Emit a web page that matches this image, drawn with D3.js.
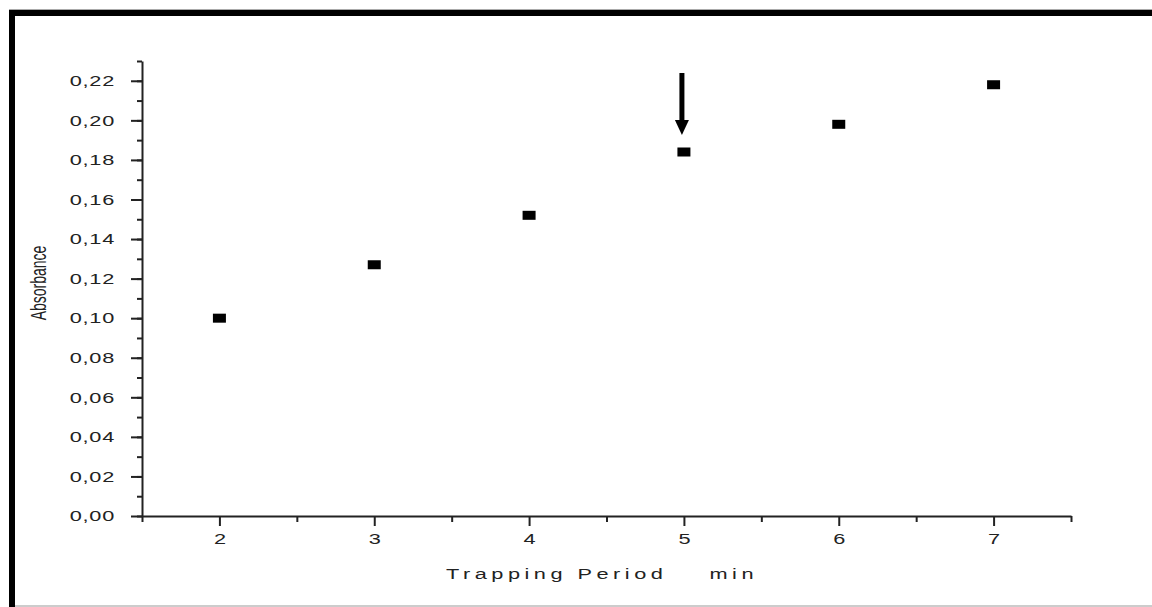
<!DOCTYPE html>
<html>
<head>
<meta charset="utf-8">
<script src="https://cdn.jsdelivr.net/npm/d3@7"></script>
<style>
  html, body { margin: 0; padding: 0; background: #fff; }
  svg { display: block; }
  text { font-family: "Liberation Sans", Arial, sans-serif; fill: #222; }
</style>
</head>
<body>
<svg id="chart" width="1152" height="607"></svg>
<script>
// Data
const periods = [2, 3, 4, 5, 6, 7];
const absorbance = [0.100, 0.127, 0.152, 0.184, 0.198, 0.218];
const xTicks = [2, 3, 4, 5, 6, 7];
const yTicks = [0, 0.02, 0.04, 0.06, 0.08, 0.10, 0.12, 0.14, 0.16, 0.18, 0.20, 0.22];
const xLabel = "Trapping Period    min";
const yLabel = "Absorbance";
const highlighted = 5;

const svg = d3.select("#chart");
const W = 1152, H = 607;
const SX = 1.45; // horizontal stretch of the original picture's text

// Frame
svg.append("rect").attr("x", 0).attr("y", 0).attr("width", W).attr("height", H).attr("fill", "#fff");
svg.append("line").attr("x1", 9).attr("x2", W).attr("y1", 9.5).attr("y2", 9.5).attr("stroke", "#aaa").attr("stroke-width", 1);
svg.append("line").attr("x1", 12).attr("x2", W).attr("y1", 13).attr("y2", 13).attr("stroke", "#000").attr("stroke-width", 6);
svg.append("line").attr("x1", 12).attr("x2", 12).attr("y1", 10).attr("y2", H).attr("stroke", "#000").attr("stroke-width", 6);
svg.append("line").attr("x1", 15).attr("x2", W).attr("y1", 606).attr("y2", 606).attr("stroke", "#bbb").attr("stroke-width", 1.5);

const x = d3.scaleLinear().domain([1.5, 7.5]).range([142, 1071]);
const y = d3.scaleLinear().domain([0, 0.23]).range([516, 61]);

const fmt = d => d.toFixed(2).replace(".", ",");

function stretch(sel) {
  sel.each(function () {
    const t = d3.select(this);
    const tx = +t.attr("x") || 0, ty = +t.attr("y") || 0;
    t.attr("x", 0).attr("y", 0)
     .attr("transform", `translate(${tx},${ty}) scale(${SX},1)`);
  });
}

// Y axis minor ticks
const yMinor = d3.range(0, 0.2301, 0.01).map(v => +v.toFixed(2));
svg.append("g").attr("transform", "translate(142,0)")
  .call(d3.axisLeft(y).tickValues(yMinor).tickSize(5).tickFormat(""))
  .call(g => g.select(".domain").remove())
  .selectAll("line").attr("stroke", "#222").attr("stroke-width", 2);

const gy = svg.append("g").attr("transform", "translate(142,0)")
  .call(d3.axisLeft(y).tickValues(yTicks).tickSize(11).tickSizeOuter(0).tickPadding(16).tickFormat(fmt));
gy.select(".domain").attr("stroke", "#222").attr("stroke-width", 2);
gy.selectAll(".tick line").attr("stroke", "#222").attr("stroke-width", 2);
gy.selectAll(".tick text").attr("font-size", 15).attr("letter-spacing", "0.5px")
  .attr("font-family", "Liberation Sans, Arial, sans-serif").attr("fill", "#2a2a2a")
  .call(stretch);

// X axis
const xMinor = d3.range(1.5, 7.51, 1);
svg.append("g").attr("transform", "translate(0,516)")
  .call(d3.axisBottom(x).tickValues(xMinor).tickSize(6).tickFormat(""))
  .call(g => g.select(".domain").remove())
  .selectAll("line").attr("stroke", "#222").attr("stroke-width", 2);

const gx = svg.append("g").attr("transform", "translate(0,516)")
  .call(d3.axisBottom(x).tickValues(xTicks).tickSize(10).tickSizeOuter(0).tickPadding(7).tickFormat(d3.format("d")));
gx.select(".domain").attr("stroke", "#222").attr("stroke-width", 2);
gx.selectAll(".tick line").attr("stroke", "#222").attr("stroke-width", 2);
gx.selectAll(".tick text").attr("font-size", 15)
  .attr("font-family", "Liberation Sans, Arial, sans-serif").attr("fill", "#2a2a2a")
  .call(stretch);

// Axis labels
svg.append("text")
  .attr("transform", `translate(602,579) scale(${SX},1)`)
  .attr("text-anchor", "middle")
  .attr("font-size", 15).attr("letter-spacing", "3.1px")
  .style("white-space", "pre").text(xLabel);
svg.append("text")
  .attr("transform", `translate(46,283) rotate(-90) scale(1,1.6)`)
  .attr("text-anchor", "middle")
  .attr("font-size", 14).text(yLabel);

// Points
const data = periods.map((p, i) => ({ p, a: absorbance[i] }));
svg.append("g").selectAll("rect").data(data).join("rect")
  .attr("x", d => x(d.p) - 6.5).attr("y", d => y(d.a) - 4.5)
  .attr("width", 13).attr("height", 9).attr("fill", "#000");

// Arrow pointing at highlighted point
const hp = data.find(d => d.p === highlighted);
const ax = x(hp.p) - 2, tipY = y(hp.a) - 17;
svg.append("rect").attr("x", ax - 2.5).attr("y", tipY - 62).attr("width", 5).attr("height", 50).attr("fill", "#000");
svg.append("path")
  .attr("d", `M${ax - 7},${tipY - 15} L${ax + 7},${tipY - 15} L${ax},${tipY} Z`)
  .attr("fill", "#000");
</script>
</body>
</html>
